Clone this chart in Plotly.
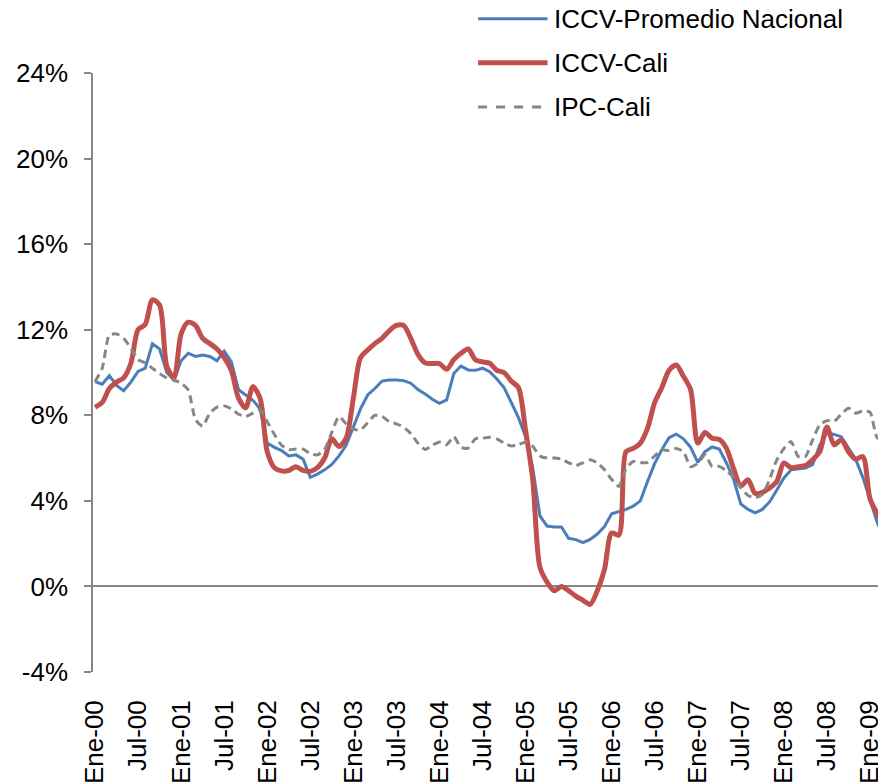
import plotly.graph_objects as go

# ---- data ----
meses = ["Ene", "Feb", "Mar", "Abr", "May", "Jun", "Jul", "Ago", "Sep", "Oct", "Nov", "Dic"]
years = ["00", "01", "02", "03", "04", "05", "06", "07", "08", "09"]
n_points = 111  # Ene-00 .. Mar-09
months = [f"{meses[i % 12]}-{years[i // 12]}" for i in range(n_points)]
tick_labels = [m for m in months if m.startswith("Ene") or m.startswith("Jul")]

iccv_nacional = [
    9.57, 9.45, 9.85, 9.4, 9.15, 9.55, 10.05, 10.2, 11.35, 11.1, 10.0, 9.65,
    10.55, 10.9, 10.75, 10.82, 10.75, 10.55, 11.0, 10.5, 9.2, 8.95, 8.7, 8.3,
    6.7, 6.5, 6.35, 6.1, 6.15, 5.95, 5.1, 5.25, 5.45, 5.7, 6.1, 6.6,
    7.5, 8.3, 8.95, 9.25, 9.6, 9.65, 9.65, 9.62, 9.5, 9.2, 9.0, 8.75,
    8.56, 8.72, 9.95, 10.3, 10.12, 10.1, 10.2, 10.04, 9.7, 9.3, 8.6, 7.9,
    7.0, 5.55, 3.3, 2.82, 2.78, 2.78, 2.25, 2.19, 2.05, 2.2, 2.45, 2.8,
    3.4, 3.5, 3.6, 3.75, 4.0, 4.9, 5.75, 6.4, 6.95, 7.12, 6.9, 6.5,
    5.8, 6.3, 6.52, 6.42, 5.77, 5.0, 3.85, 3.6, 3.44, 3.6, 3.95, 4.5,
    5.07, 5.45, 5.5, 5.53, 5.69, 6.6, 7.2, 7.1, 7.0, 6.47, 5.95, 5.1,
    4.0, 3.0, 2.2,
]

iccv_cali = [
    8.38, 8.6, 9.25, 9.55, 9.75, 10.43, 12.0, 12.25, 13.4, 13.15, 10.3, 9.75,
    11.8, 12.35, 12.2, 11.6, 11.35, 11.1, 10.7, 10.1, 8.8, 8.35, 9.34, 8.8,
    6.3, 5.55, 5.4, 5.42, 5.6, 5.42, 5.38, 5.55, 6.0, 6.9, 6.54, 6.93,
    8.8, 10.7, 11.05, 11.35, 11.6, 11.95, 12.2, 12.2, 11.6, 10.85, 10.45, 10.42,
    10.42, 10.15, 10.6, 10.9, 11.1, 10.6, 10.5, 10.43, 10.1, 10.0, 9.6, 9.3,
    7.3, 5.0, 0.9, 0.2, -0.2, 0.0, -0.2, -0.45, -0.65, -0.84, -0.2, 0.8,
    2.5, 2.4, 6.3, 6.45, 6.7, 7.4, 8.6, 9.3, 10.1, 10.35, 9.82, 9.2,
    6.7, 7.2, 6.93, 6.87, 6.45, 5.5, 4.7, 4.99, 4.35, 4.4, 4.6, 4.9,
    5.77, 5.55, 5.6, 5.65, 5.92, 6.3, 7.45, 6.62, 6.85, 6.3, 5.95, 6.07,
    4.1, 3.4, 2.7,
]

ipc_cali = [
    9.57, 10.2, 11.75, 11.8, 11.6, 11.13, 10.6, 10.45, 10.2, 9.95, 9.75, 9.65,
    9.5, 9.18, 7.8, 7.5, 8.1, 8.38, 8.44, 8.3, 8.05, 7.95, 8.1, 8.25,
    7.7, 7.1, 6.6, 6.39, 6.42, 6.42, 6.2, 6.15, 6.4, 7.2, 7.94, 7.6,
    7.35, 7.32, 7.65, 8.0, 7.95, 7.7, 7.6, 7.45, 7.15, 6.7, 6.4, 6.6,
    6.75, 6.62, 7.0, 6.5, 6.47, 6.9, 6.93, 6.97, 6.9, 6.7, 6.57, 6.62,
    6.75, 6.55, 6.1, 6.0, 6.0, 5.95, 5.78, 5.65, 5.78, 5.92, 5.77, 5.45,
    5.0, 4.68, 5.5, 5.84, 5.78, 5.8, 6.1, 6.39, 6.35, 6.45, 6.3, 5.6,
    5.75, 6.15, 5.61, 5.61, 5.4, 5.1, 4.6, 4.25, 4.15, 4.3, 5.0, 5.9,
    6.45, 6.77, 6.07, 6.07, 6.85, 7.55, 7.75, 7.72, 8.05, 8.33, 8.1, 8.2,
    8.15, 6.95, 6.85,
]

y_ticks = [-4, 0, 4, 8, 12, 16, 20, 24]
y_tick_text = [f"{v}%" for v in y_ticks]

series_names = ["ICCV-Promedio Nacional", "ICCV-Cali", "IPC-Cali"]
colors = ["#4A7EBB", "#C0504D", "#868686"]

FONT = "Arial, 'Liberation Sans', sans-serif"
FS = 26

fig = go.Figure()
fig.add_trace(go.Scatter(x=months, y=iccv_nacional, mode="lines", name=series_names[0],
                         line=dict(color=colors[0], width=3), showlegend=False))
fig.add_trace(go.Scatter(x=months, y=iccv_cali, mode="lines", name=series_names[1],
                         line=dict(color=colors[1], width=5, shape="spline", smoothing=0.8),
                         showlegend=False))
fig.add_trace(go.Scatter(x=months, y=ipc_cali, mode="lines", name=series_names[2],
                         line=dict(color=colors[2], width=3, dash="8px,5px", shape="spline",
                                   smoothing=0.6),
                         showlegend=False))

# page pixel targets (the page body has an 8px margin)
OFF = 8
L, R, T, B = 87 - OFF, 886 - OFF, 73 - OFF, 672 - OFF
FW, FH = 886, 784
W, H = R - L, B - T

def px(x):
    return (x - OFF - L) / W

def py(y):
    return (B - (y - OFF)) / H

# ---- custom legend (long line samples as in the original) ----
legend_rows = [18.7, 62.7, 107]
legend_widths = [3, 5, 3]
legend_dash = ["solid", "solid", "dash"]
for name, col, yy, lw, dsh in zip(series_names, colors, legend_rows, legend_widths, legend_dash):
    fig.add_shape(type="line", xref="paper", yref="paper",
                  x0=px(475), x1=px(545), y0=py(yy), y1=py(yy),
                  line=dict(color=col, width=lw, dash=dsh))
    fig.add_annotation(xref="paper", yref="paper", x=px(549), y=py(yy),
                       text=name, showarrow=False, xanchor="left", yanchor="middle",
                       font=dict(family=FONT, size=FS, color="black"))

fig.update_layout(
    width=FW, height=FH,
    margin=dict(l=L, r=FW - R, t=T, b=FH - B, pad=0),
    paper_bgcolor="white", plot_bgcolor="white",
    font=dict(family=FONT, size=FS, color="black"),
    showlegend=False,
)
fig.update_xaxes(
    type="category",
    range=[-0.28, 110.23],
    tickmode="array", tickvals=tick_labels, ticktext=tick_labels,
    tickangle=-90, ticks="", showline=False, showgrid=False, zeroline=False,
    ticklabelstandoff=22,
    tickfont=dict(family=FONT, size=FS, color="black"),
)
fig.update_yaxes(
    range=[-4, 24],
    tickmode="array", tickvals=y_ticks, ticktext=y_tick_text,
    ticks="outside", ticklen=7, tickcolor="#868686", tickwidth=1.5,
    showline=True, linecolor="#868686", linewidth=1.5,
    showgrid=False,
    zeroline=True, zerolinecolor="#868686", zerolinewidth=1.5,
    ticklabelstandoff=11,
    tickfont=dict(family=FONT, size=FS, color="black"),
)

fig.write_html("out.html")
